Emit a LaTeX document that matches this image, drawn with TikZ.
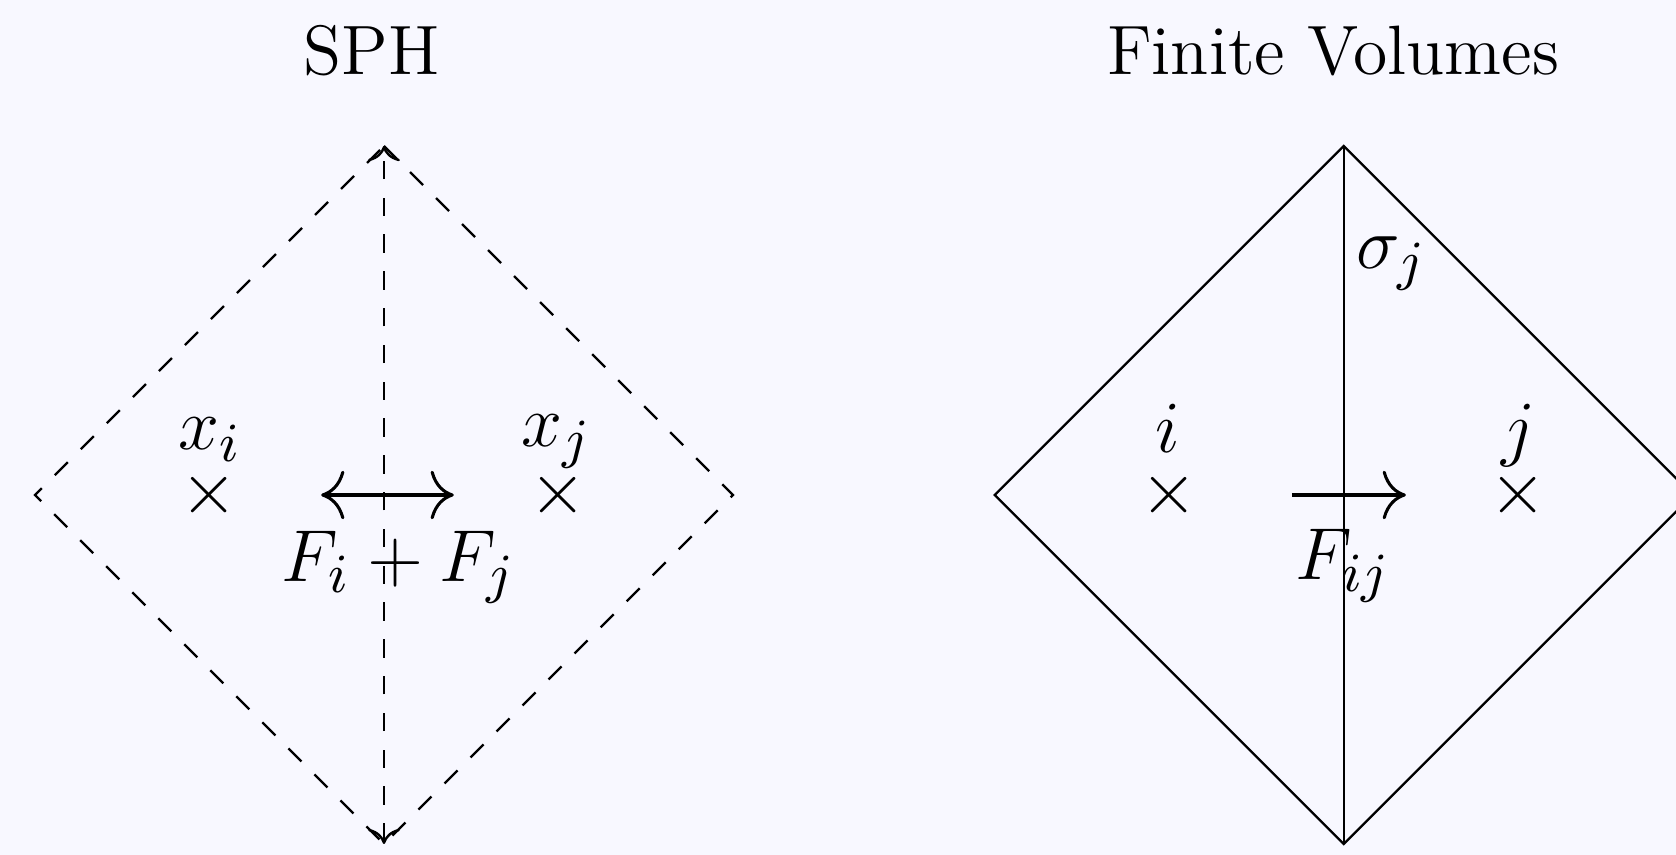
\documentclass[tikz,border=0pt]{standalone}
\usetikzlibrary{arrows.meta}
\definecolor{bgcol}{RGB}{248,248,255}
\tikzset{
  lbl/.style={font=\fontsize{12.2}{14.6}\selectfont, inner sep=0pt},
  ttl/.style={font=\fontsize{11.4}{13.6}\selectfont, inner sep=0pt},
  crossmark/.style={font=\fontsize{12.2}{14.6}\selectfont, inner sep=0pt},
  edgeline/.style={line width=0.4pt},
  bigtip/.style={line width=0.5pt, arrows={To[scale=1.4]-To[scale=1.4]}},
  bigtipr/.style={line width=0.5pt, arrows={-To[scale=1.4]}},
}
\begin{document}
\begin{tikzpicture}
\fill[bgcol] (-2.2006,-2.063) rectangle (7.404,2.8367);
\useasboundingbox (-2.2006,-2.063) rectangle (7.404,2.8367);
% titles
\node[ttl, anchor=base] (t1) at (-0.07,2.408) {SPH};
\node[ttl, anchor=base] (t2) at (5.44,2.408) {Finite Volumes};
% SPH diamond
\coordinate (lt) at (0,2);
\coordinate (lb) at (0,-2);
\coordinate (ll) at (-2,0);
\coordinate (lr) at (2,0);
\draw[edgeline, dashed] (lt) -- (lr) -- (lb) -- (ll) -- cycle;
\draw[edgeline, dashed, <->] (lb) -- (lt);
\node[crossmark] (ci) at (-1,0) {$\times$};
\node[crossmark] (cj) at (1,0) {$\times$};
\node[lbl, anchor=base] (xi) at (-0.995,0.258) {$x_i$};
\node[lbl, anchor=base] (xj) at (0.99,0.277) {$x_j$};
\coordinate (al) at (-0.36,0);
\coordinate (ar) at (0.40,0);
\draw[bigtip] (al) -- (ar);
\node[lbl, anchor=base] (fsum) at (0.085,-0.497) {$F_i + F_j$};
% FV diamond
\coordinate (rt) at (5.5,2);
\coordinate (rb) at (5.5,-2);
\coordinate (rl) at (3.5,0);
\coordinate (rr) at (7.5,0);
\draw[edgeline] (rt) -- (rr) -- (rb) -- (rl) -- cycle;
\draw[edgeline] (rt) -- (rb);
\node[crossmark] (ri) at (4.5,0) {$\times$};
\node[crossmark] (rj) at (6.5,0) {$\times$};
\node[lbl, anchor=base] (li) at (4.49,0.241) {$i$};
\node[lbl, anchor=base] (lj) at (6.5,0.241) {$j$};
\coordinate (bl) at (5.203,0);
\coordinate (br) at (5.856,0);
\draw[bigtipr] (bl) -- (br);
\node[lbl, anchor=base] (fij) at (5.497,-0.487) {$F_{ij}$};
\node[lbl, anchor=base west] (sig) at (5.565,1.30) {$\sigma_j$};
\end{tikzpicture}
\end{document}
